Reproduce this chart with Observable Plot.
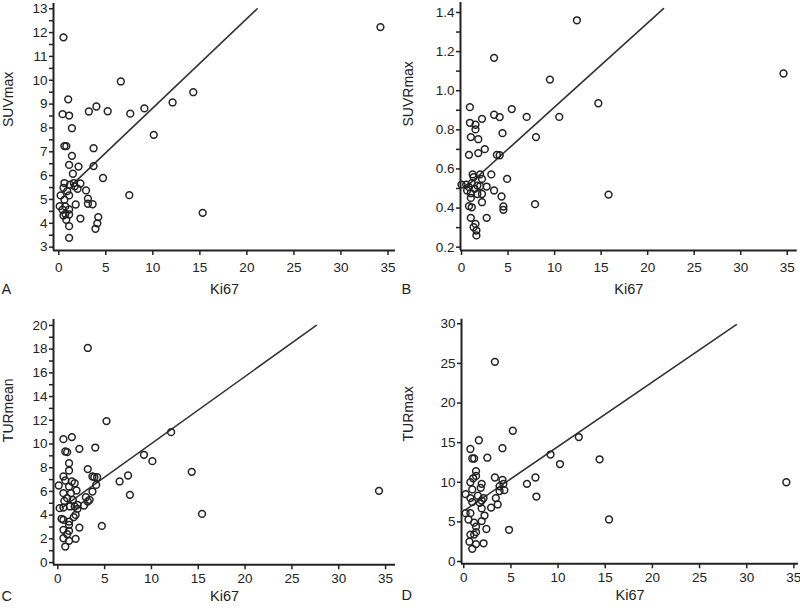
<!DOCTYPE html>
<html><head><meta charset="utf-8">
<script src="https://cdn.jsdelivr.net/npm/d3@7"></script>
<script src="https://cdn.jsdelivr.net/npm/@observablehq/plot@0.6"></script>
<style>
body{margin:0;background:#fff;}
#wrap{position:relative;width:800px;height:613px;overflow:hidden;background:#fff;}
.panel{position:absolute;}
</style></head><body><div id="wrap"></div>
<script>
// Panel A: Ki67 vs SUVmax
const ki67A = [34.2,0.5,6.6,14.3,1.0,12.1,4.0,9.1,3.2,5.2,7.6,0.4,1.1,1.4,10.1,0.6,0.8,3.7,1.4,1.1,3.7,2.1,1.5,4.7,0.6,1.6,2.3,1.2,1.7,2.0,0.5,0.9,2.9,0.2,1.1,7.5,3.1,0.6,3.1,3.6,1.8,0.1,0.7,1.1,0.4,0.7,1.1,15.3,0.5,2.3,4.2,0.8,4.1,1.1,3.9,1.1];
const suvmax = [12.23,11.8,9.95,9.5,9.2,9.07,8.9,8.82,8.69,8.7,8.6,8.58,8.52,7.99,7.71,7.24,7.24,7.15,6.83,6.45,6.4,6.38,6.08,5.9,5.69,5.69,5.67,5.62,5.55,5.45,5.49,5.35,5.38,5.17,5.17,5.18,5.03,4.99,4.82,4.8,4.79,4.72,4.71,4.58,4.57,4.4,4.37,4.44,4.33,4.2,4.26,4.15,4.0,3.88,3.77,3.39];
// Panel B: Ki67 vs SUVRmax
const ki67B = [12.4,34.6,3.5,9.5,14.7,0.9,5.4,3.5,4.1,7.0,10.5,2.2,0.9,1.5,1.5,4.4,1.0,1.8,8.0,2.5,1.8,0.8,3.8,4.1,1.2,2.0,3.2,1.3,2.2,4.9,0.5,1.1,1.7,2.7,0.0,0.8,2.0,1.4,0.6,3.5,1.0,1.7,2.2,15.8,4.3,1.0,2.2,7.9,0.8,1.1,4.5,4.5,1.0,2.7,1.5,1.3,1.6,1.6];
const suvrmax = [1.36,1.088,1.168,1.057,0.936,0.916,0.906,0.877,0.865,0.866,0.866,0.856,0.836,0.826,0.802,0.783,0.763,0.752,0.763,0.701,0.681,0.672,0.672,0.67,0.572,0.572,0.572,0.558,0.549,0.549,0.52,0.527,0.515,0.51,0.52,0.507,0.512,0.498,0.49,0.49,0.476,0.472,0.472,0.469,0.459,0.452,0.43,0.42,0.41,0.404,0.408,0.391,0.35,0.35,0.319,0.302,0.285,0.26];
// Panel C: Ki67 vs TURmean
const ki67C = [34.3,3.2,5.2,12.1,1.5,0.6,2.3,4.0,0.8,1.0,9.2,10.1,1.2,3.2,1.2,14.3,7.5,0.6,3.7,3.9,4.2,0.8,6.6,1.5,1.8,0.1,4.1,1.2,2.0,3.7,0.6,1.4,7.7,1.0,3.0,1.6,3.4,0.7,3.2,2.1,2.8,1.8,1.3,0.2,0.6,2.1,1.9,15.4,1.7,0.4,0.6,1.2,1.2,4.7,2.3,0.6,1.2,1.0,0.6,1.9,1.2,0.8];
const turmean = [6.05,18.1,11.93,11.0,10.58,10.41,9.59,9.7,9.37,9.31,9.09,8.55,8.38,7.88,7.76,7.65,7.34,7.26,7.26,7.2,7.2,6.92,6.84,6.84,6.69,6.5,6.55,6.41,6.08,5.99,5.85,5.85,5.71,5.43,5.51,5.29,5.29,5.2,5.15,4.87,4.81,4.73,4.73,4.59,4.64,4.53,4.02,4.1,3.83,3.69,3.6,3.46,3.18,3.09,2.95,2.76,2.67,2.39,2.05,2.0,1.83,1.35];
// Panel D: Ki67 vs TURmax
const ki67D = [34.2,3.3,5.2,12.2,1.6,4.1,0.7,9.2,0.9,1.1,2.5,14.4,10.2,1.3,1.3,3.3,7.6,4.1,1.0,0.7,1.9,4.2,6.7,3.8,1.8,0.9,4.3,3.8,0.2,1.5,7.7,3.4,0.7,2.1,1.9,0.9,1.7,3.6,2.9,1.9,0.2,0.7,2.2,0.5,15.4,1.9,1.1,1.3,2.4,4.8,1.3,0.7,1.1,0.6,1.3,2.1,0.9];
const turmax = [10.0,25.2,16.5,15.7,15.3,14.3,14.2,13.5,13.0,13.0,13.1,12.9,12.3,11.4,10.8,10.6,10.6,10.3,10.5,10.0,9.8,9.8,9.8,9.5,9.3,9.1,9.0,8.9,8.5,8.3,8.2,8.0,8.0,8.0,7.7,7.5,7.4,7.2,6.8,6.7,6.1,6.1,5.8,5.3,5.3,5.1,4.9,4.4,4.1,4.0,3.7,3.4,3.4,2.5,2.2,2.3,1.6];

// Regression line end points (Ki67, value)
const fitAx = [1.35, 21.1], fitAy = [5.59, 13.0];
const fitBx = [0.54, 21.7], fitBy = [0.51, 1.42];
const fitCx = [0.46, 27.6], fitCy = [4.64, 20.0];
const fitDx = [0.18, 28.9], fitDy = [6.52, 29.9];

// Tick values
const xTicks = [0, 5, 10, 15, 20, 25, 30, 35];
const yTicksA = [3, 4, 5, 6, 7, 8, 9, 10, 11, 12, 13];
const yMinorA = [3.5, 4.5, 5.5, 6.5, 7.5, 8.5, 9.5, 10.5, 11.5, 12.5];
const yTicksB = [0.2, 0.4, 0.6, 0.8, 1.0, 1.2, 1.4];
const yMinorB = [0.3, 0.5, 0.7, 0.9, 1.1, 1.3];
const yTicksC = [0, 2, 4, 6, 8, 10, 12, 14, 16, 18, 20];
const yMinorC = [1, 3, 5, 7, 9, 11, 13, 15, 17, 19];
const yTicksD = [0, 5, 10, 15, 20, 25, 30];
const yMinorD = [];

const letters = ["A", "B", "C", "D"];
const yLabels = ["SUVmax", "SUVRmax", "TURmean", "TURmax"];
const xLabel = "Ki67";

const panels = [
  {letter: letters[0], yLabel: yLabels[0], x: ki67A, y: suvmax, fx: fitAx, fy: fitAy, yt: yTicksA, ym: yMinorA, fmt: d3.format("d"),
   left: 0, top: 0, h: 306, ml: 53, mr: 5, mt: 3, mb: 56, xd: [-0.56, 35.8], yd: [2.86, 13.22], ylx: -45, tdy: 4, kdy: 43, ldx: -52},
  {letter: letters[1], yLabel: yLabels[1], x: ki67B, y: suvrmax, fx: fitBx, fy: fitBy, yt: yTicksB, ym: yMinorB, fmt: d3.format(".1f"),
   left: 400, top: 0, h: 306, ml: 60, mr: 3.3, mt: 2, mb: 56, xd: [-0.11, 36.07], yd: [0.183, 1.451], ylx: -52, tdy: 4, kdy: 43, ldx: -59},
  {letter: letters[2], yLabel: yLabels[2], x: ki67C, y: turmean, fx: fitCx, fy: fitCy, yt: yTicksC, ym: yMinorC, fmt: d3.format("d"),
   left: 0, top: 306, h: 307, ml: 53, mr: 5, mt: 13, mb: 48.7, xd: [-0.46, 36.06], yd: [-0.19, 20.5], ylx: -45, tdy: 1, kdy: 36, ldx: -52},
  {letter: letters[3], yLabel: yLabels[3], x: ki67D, y: turmax, fx: fitDx, fy: fitDy, yt: yTicksD, ym: yMinorD, fmt: d3.format("d"),
   left: 400, top: 306, h: 307, ml: 61, mr: 2, mt: 12.7, mb: 49.7, xd: [-0.24, 35.49], yd: [-0.29, 30.58], ylx: -53, tdy: 1, kdy: 36, ldx: -60}
];

const ink = "#222";
const font = "'Liberation Sans', Arial, Helvetica, sans-serif";
const wrap = document.getElementById("wrap");

for (const p of panels) {
  const idx = d3.range(p.x.length);
  const fidx = d3.range(p.fx.length);
  const majors = p.yt.map(v => +v.toFixed(4));
  const allY = [...p.yt, ...p.ym].sort((a, b) => a - b);
  const isMajor = v => majors.includes(+v.toFixed(4));
  const chart = Plot.plot({
    width: 400, height: p.h,
    marginLeft: p.ml, marginRight: p.mr, marginTop: p.mt, marginBottom: p.mb,
    x: {domain: p.xd},
    y: {domain: p.yd},
    style: {fontFamily: font, fontSize: "13.5px", color: ink, background: "white", overflow: "visible"},
    marks: [
      Plot.axisX(xTicks, {tickSize: 5, tickPadding: p.tdy + 3, label: null, strokeWidth: 1.5}),
      Plot.axisY(allY, {tickSize: 4, tickPadding: 2, tickFormat: v => isMajor(v) ? p.fmt(v) : "", label: null, strokeWidth: 1.5}),
      Plot.ruleX([p.xd[0]], {stroke: ink, strokeWidth: 2}),
      Plot.ruleY([p.yd[0]], {stroke: ink, strokeWidth: 2}),
      Plot.line(fidx, {x: i => p.fx[i], y: i => p.fy[i], stroke: "#333", strokeWidth: 1.6}),
      Plot.dot(idx, {x: i => p.x[i], y: i => p.y[i], r: 3.4, stroke: ink, strokeWidth: 1.5, fill: "none"}),
      Plot.text([p.yLabel], {text: d => d, frameAnchor: "left", rotate: -90, dx: p.ylx, fontSize: 14, fill: ink}),
      Plot.text([xLabel], {text: d => d, frameAnchor: "bottom", dy: p.kdy, fontSize: 14.5, fill: ink}),
      Plot.text([p.letter], {text: d => d, frameAnchor: "bottom-left", dx: p.ldx, dy: p.kdy, textAnchor: "start", fontSize: 14.5, fill: ink})
    ]
  });
  const div = document.createElement("div");
  div.className = "panel";
  div.style.left = p.left + "px";
  div.style.top = p.top + "px";
  div.appendChild(chart);
  wrap.appendChild(div);
}
</script>
</body></html>
